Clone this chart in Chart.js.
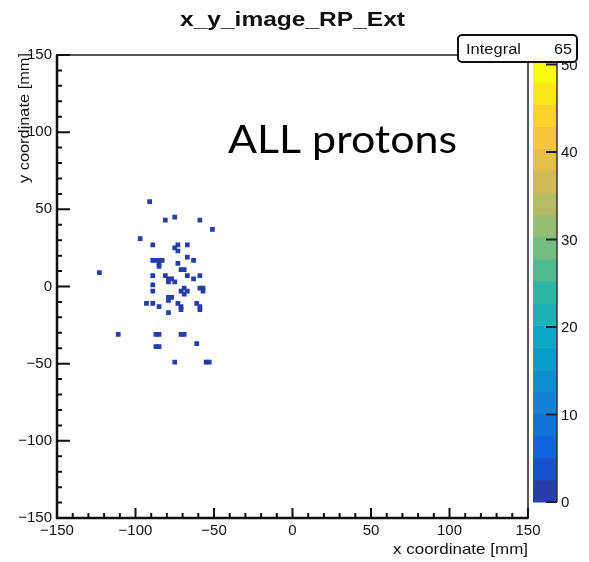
<!DOCTYPE html>
<html>
<head>
<meta charset="utf-8">
<script src="https://cdn.jsdelivr.net/npm/chart.js@4/dist/chart.umd.min.js"></script>
<style>
  html, body { margin: 0; padding: 0; background: #fff; }
  #c { display: block; }
</style>
</head>
<body>
<canvas id="c" width="589" height="562"></canvas>
<script>
// ---- data: occupied 2 mm x 2 mm bins (bin centres, mm) and their contents ----
const binX = [-91, -75, -81, -59, -51, -97, -89, -73, -67, -75, -73, -67, -63,
  -89, -87, -85, -83, -85, -85, -73, -71, -69, -123, -89, -81, -67, -59,
  -79, -77, -79, -75, -63, -89, -59, -57, -57, -69, -71, -67, -69, -89,
  -93, -89, -85, -79, -77, -79, -79, -73, -71, -71, -61, -59, -59,
  -111, -87, -85, -71, -69, -61, -87, -85, -75, -55, -53];
const binY = [55, 45, 43, 43, 37, 31, 27, 27, 27, 25, 23, 19, 17,
  17, 17, 17, 17, 15, 13, 15, 11, 11, 9, 7, 7, 7, 7,
  5, 5, 3, 3, 5, 1, -1, -1, -3, -1, -3, -3, -5, -3,
  -11, -11, -13, -7, -7, -9, -17, -11, -13, -15, -11, -13, -15,
  -31, -31, -31, -31, -31, -37, -39, -39, -49, -49, -49];
const binCount = binX.map(() => 1);

const binWidth = 2;                 // mm
const xTicks = [-150, -100, -50, 0, 50, 100, 150];
const yTicks = [-150, -100, -50, 0, 50, 100, 150];
const minorStep = 10;
const zTicks = [0, 10, 20, 30, 40, 50];
const zMin = 0, zMax = 50.5, nContours = 20;

const titleText = 'x_y_image_RP_Ext';
const xTitle = 'x coordinate [mm]';
const yTitle = 'y coordinate [mm]';
const statsLabel = 'Integral';
const statsValue = '65';
const overlayText = 'ALL protons';

// ---- ROOT kBird palette ----
const stops = [0.0, 0.125, 0.25, 0.375, 0.5, 0.625, 0.75, 0.875, 1.0];
const red   = [0.2082, 0.0592, 0.0780, 0.0232, 0.1802, 0.5301, 0.8186, 0.9956, 0.9764];
const green = [0.1664, 0.3599, 0.5041, 0.6419, 0.7178, 0.7492, 0.7328, 0.7862, 0.9832];
const blue  = [0.5293, 0.8684, 0.8385, 0.7914, 0.6425, 0.4662, 0.3499, 0.1968, 0.0539];
function bird(f) {
  f = Math.max(0, Math.min(1, f));
  let i = 0;
  while (i < stops.length - 2 && f > stops[i + 1]) i++;
  const t = (f - stops[i]) / (stops[i + 1] - stops[i]);
  const c = a => Math.round(255 * (a[i] + (a[i + 1] - a[i]) * t));
  return `rgb(${c(red)},${c(green)},${c(blue)})`;
}
function levelColor(level) {
  const idx = Math.min(254, Math.floor((level + 0.99) * 255 / nContours));
  return bird(idx / 254);
}
function colorForValue(v) {
  const lvl = Math.max(0, Math.min(nContours - 1, Math.floor((v - zMin) / (zMax - zMin) * nContours)));
  return levelColor(lvl);
}
const fmt = v => (v < 0 ? '\u2212' + Math.abs(v) : String(v));

function drawStretched(ctx, str, x, y, font, align, targetW) {
  ctx.save();
  ctx.font = font;
  ctx.textBaseline = 'alphabetic';
  ctx.textAlign = 'left';
  const mw = ctx.measureText(str).width;
  const sx = targetW ? targetW / mw : 1;
  const w = mw * sx;
  const x0 = align === 'center' ? x - w / 2 : align === 'right' ? x - w : x;
  ctx.translate(x0, y);
  ctx.scale(sx, 1);
  ctx.fillText(str, 0, 0);
  ctx.restore();
}

const ROOTFONT = '"Liberation Sans", Arial, Helvetica, sans-serif';

const decor = {
  id: 'decor',
  beforeDraw(chart) {
    const ctx = chart.ctx;
    ctx.save();
    ctx.fillStyle = '#fff';
    ctx.fillRect(0, 0, chart.width, chart.height);
    ctx.restore();
  },
  afterDraw(chart) {
    const ctx = chart.ctx;
    const a = chart.chartArea;
    const xs = chart.scales.x, ys = chart.scales.y;
    ctx.save();
    // frame
    ctx.strokeStyle = '#555';
    ctx.lineWidth = 2;
    ctx.strokeRect(a.left, a.top, a.right - a.left, a.bottom - a.top);
    // axis lines
    ctx.strokeStyle = '#111';
    ctx.lineWidth = 2.5;
    ctx.beginPath();
    ctx.moveTo(a.left, a.top); ctx.lineTo(a.left, a.bottom); ctx.lineTo(a.right, a.bottom);
    ctx.stroke();
    // ticks (inside)
    ctx.lineWidth = 2;
    ctx.beginPath();
    for (let v = xs.min; v <= xs.max + 1e-9; v += minorStep) {
      const px = xs.getPixelForValue(v);
      const major = xTicks.includes(v);
      ctx.moveTo(px, a.bottom);
      ctx.lineTo(px, a.bottom - (major ? 10 : 5));
    }
    for (let v = ys.min; v <= ys.max + 1e-9; v += minorStep) {
      const py = ys.getPixelForValue(v);
      const major = yTicks.includes(v);
      ctx.moveTo(a.left, py);
      ctx.lineTo(a.left + (major ? 13 : 5), py);
    }
    ctx.stroke();

    // colour bar
    const cbL = 533, cbR = 557, cbBot = 502, cbTop = 60;
    const zPix = v => cbBot - (v - zMin) / (zMax - zMin) * (cbBot - cbTop);
    for (let i = 0; i < nContours; i++) {
      const v0 = zMin + i * (zMax - zMin) / nContours;
      const v1 = zMin + (i + 1) * (zMax - zMin) / nContours;
      ctx.fillStyle = levelColor(i);
      const y0 = zPix(v0), y1 = zPix(v1);
      ctx.fillRect(cbL, y1, cbR - cbL, y0 - y1 + 0.5);
    }
    ctx.strokeStyle = '#333';
    ctx.lineWidth = 1.5;
    ctx.beginPath();
    ctx.moveTo(cbR, cbTop); ctx.lineTo(cbR, cbBot);
    ctx.stroke();
    ctx.strokeStyle = '#222';
    ctx.lineWidth = 2;
    ctx.beginPath();
    zTicks.forEach(v => {
      const py = zPix(v);
      ctx.moveTo(cbR - 11, py); ctx.lineTo(cbR, py);
    });
    ctx.stroke();
    ctx.fillStyle = '#111';
    ctx.font = '15px ' + ROOTFONT;
    ctx.textAlign = 'left';
    ctx.textBaseline = 'middle';
    zTicks.forEach(v => ctx.fillText(fmt(v), cbR + 4, zPix(v) + 1));

    // stats box
    const bx = 458, by = 35, bw = 119, bh = 27, r = 4;
    ctx.beginPath();
    ctx.moveTo(bx + r, by);
    ctx.arcTo(bx + bw, by, bx + bw, by + bh, r);
    ctx.arcTo(bx + bw, by + bh, bx, by + bh, r);
    ctx.arcTo(bx, by + bh, bx, by, r);
    ctx.arcTo(bx, by, bx + bw, by, r);
    ctx.closePath();
    ctx.fillStyle = '#fff';
    ctx.fill();
    ctx.strokeStyle = '#111';
    ctx.lineWidth = 2;
    ctx.stroke();
    ctx.fillStyle = '#111';
    drawStretched(ctx, statsLabel, 466, 54, '14px ' + ROOTFONT, 'left', 55);
    drawStretched(ctx, statsValue, 572, 54, '14px ' + ROOTFONT, 'right', 18);

    // title
    ctx.fillStyle = '#111';
    drawStretched(ctx, titleText, 292.5, 26, 'bold 20px ' + ROOTFONT, 'center', 225);
    // x axis title
    drawStretched(ctx, xTitle, 528, 554, '15px ' + ROOTFONT, 'right', 135);
    // y axis title (rotated)
    ctx.save();
    ctx.translate(29, 53);
    ctx.rotate(-Math.PI / 2);
    drawStretched(ctx, yTitle, 0, 0, '15px ' + ROOTFONT, 'right', 130);
    ctx.restore();
    // overlay annotation
    ctx.fillStyle = '#000';
    drawStretched(ctx, overlayText, 228, 153, '39px Lato, "Open Sans", sans-serif', 'left', 229);
    ctx.restore();
  }
};

const points = binX.map((x, i) => ({ x: x, y: binY[i], v: binCount[i] }));

new Chart(document.getElementById('c'), {
  type: 'scatter',
  data: {
    datasets: [{
      data: points,
      pointStyle: 'rect',
      rotation: 0,
      pointRadius: ctx => {
        const s = ctx.chart.scales.x;
        return Math.abs(s.getPixelForValue(binWidth) - s.getPixelForValue(0)) / Math.SQRT2;
      },
      backgroundColor: ctx => colorForValue(ctx.raw ? ctx.raw.v : 1),
      borderColor: ctx => colorForValue(ctx.raw ? ctx.raw.v : 1),
      borderWidth: 1.6,
      pointHoverRadius: 0
    }]
  },
  options: {
    responsive: false,
    animation: false,
    devicePixelRatio: 1,
    events: [],
    layout: { padding: { left: 0, top: 55, right: 61, bottom: 0 } },
    plugins: { legend: { display: false }, tooltip: { enabled: false }, title: { display: false } },
    scales: {
      x: {
        type: 'linear', min: -150, max: 150,
        afterBuildTicks: s => { s.ticks = xTicks.map(v => ({ value: v })); },
        afterFit: s => { s.height = 44; },
        grid: { display: false, drawTicks: false },
        border: { display: false },
        ticks: {
          autoSkip: false, maxRotation: 0, padding: 4, color: '#111',
          font: { family: ROOTFONT, size: 15 },
          callback: v => fmt(v)
        }
      },
      y: {
        type: 'linear', min: -150, max: 150,
        afterBuildTicks: s => { s.ticks = yTicks.map(v => ({ value: v })); },
        afterFit: s => { s.width = 57; },
        grid: { display: false, drawTicks: false },
        border: { display: false },
        ticks: {
          autoSkip: false, padding: 5, color: '#111',
          font: { family: ROOTFONT, size: 15 },
          callback: v => fmt(v)
        }
      }
    }
  },
  plugins: [decor]
});
</script>
</body>
</html>
